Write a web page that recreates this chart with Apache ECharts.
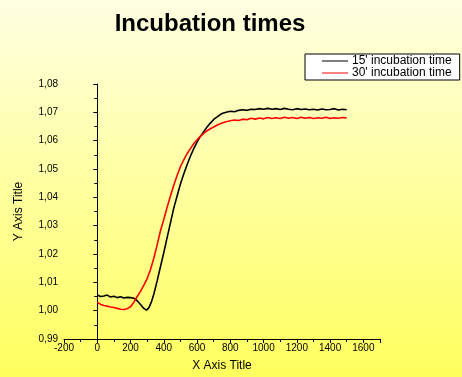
<!DOCTYPE html>
<html>
<head>
<meta charset="utf-8">
<script src="https://cdn.jsdelivr.net/npm/echarts@6/dist/echarts.min.js"></script>
<style>
  html, body { margin: 0; padding: 0; }
  #chart { width: 462px; height: 377px; }
</style>
</head>
<body>
<div id="chart"></div>
<script>
const seriesNames = ["15' incubation time", "30' incubation time"];
const seriesColors = ['#000000', '#ff0000'];

const time15 = [0, 10, 20, 40, 60, 80, 100, 120, 140, 160, 180, 200, 220, 240, 260, 280, 296, 310, 325, 340,
  360, 380, 400, 420, 440, 460, 480, 500, 520, 540, 560, 580, 600, 620, 640, 660, 680, 700,
  725, 750, 775, 800, 825, 850, 875, 900, 925, 950, 975, 1000, 1025, 1050, 1075, 1100, 1125, 1150,
  1175, 1200, 1225, 1250, 1275, 1300, 1325, 1350, 1375, 1400, 1425, 1450, 1475, 1500];
const value15 = [1.0055, 1.0062, 1.0050, 1.0052, 1.0055, 1.0048, 1.0051, 1.0046, 1.0049, 1.0045, 1.0047, 1.0046, 1.0044, 1.0035, 1.0022, 1.0008, 1.0002, 1.0010, 1.0030, 1.0058,
  1.0105, 1.0155, 1.0205, 1.0258, 1.0310, 1.0362, 1.0405, 1.0447, 1.0482, 1.0515, 1.0545, 1.0572, 1.0595, 1.0615, 1.0632, 1.0648, 1.0662, 1.0675,
  1.0686, 1.0696, 1.0700, 1.0704, 1.0702, 1.0707, 1.0709, 1.0707, 1.0711, 1.0710, 1.0713, 1.0711, 1.0714, 1.0711, 1.0713, 1.0710, 1.0714, 1.0711,
  1.0709, 1.0713, 1.0710, 1.0712, 1.0709, 1.0711, 1.0708, 1.0712, 1.0709, 1.0710, 1.0713, 1.0708, 1.0711, 1.0709];

const time30 = [0, 10, 20, 40, 60, 80, 100, 120, 140, 160, 180, 200, 220, 240, 260, 280, 300, 320, 340,
  360, 380, 400, 420, 440, 460, 480, 500, 520, 540, 560, 580, 600, 620, 640, 660, 680, 700,
  725, 750, 775, 800, 825, 850, 875, 900, 925, 950, 975, 1000, 1025, 1050, 1075, 1100, 1125, 1150,
  1175, 1200, 1225, 1250, 1275, 1300, 1325, 1350, 1375, 1400, 1425, 1450, 1475, 1500];
const value30 = [1.0030, 1.0026, 1.0022, 1.0018, 1.0016, 1.0013, 1.0011, 1.0008, 1.0005, 1.0004, 1.0007, 1.0014, 1.0030, 1.0050, 1.0068, 1.0090, 1.0113, 1.0145, 1.0185,
  1.0232, 1.0282, 1.0322, 1.0365, 1.0405, 1.0443, 1.0477, 1.0508, 1.0532, 1.0554, 1.0572, 1.0589, 1.0603, 1.0615, 1.0626, 1.0635, 1.0642, 1.0648,
  1.0656, 1.0662, 1.0667, 1.0670, 1.0673, 1.0671, 1.0676, 1.0674, 1.0679, 1.0676, 1.0680, 1.0677, 1.0682, 1.0678, 1.0681, 1.0678, 1.0683, 1.0679,
  1.0682, 1.0678, 1.0683, 1.0679, 1.0682, 1.0678, 1.0681, 1.0679, 1.0683, 1.0678, 1.0681, 1.0679, 1.0682, 1.0680];

const xTicks = { min: -200, max: 1700, interval: 200 };
const yTicks = { min: 0.99, max: 1.08, interval: 0.01 };

const font = 'Arial, "Liberation Sans", sans-serif';
const chart = echarts.init(document.getElementById('chart'));

const axisCommon = {
  axisLine: { show: true, lineStyle: { color: '#000', width: 1 } },
  axisTick: { show: true, length: 4, lineStyle: { color: '#000' } },
  minorTick: { show: true, splitNumber: 2, length: 3, lineStyle: { color: '#000' } },
  splitLine: { show: false },
  axisLabel: { color: '#000', fontSize: 10, fontFamily: font },
  nameTextStyle: { color: '#000', fontSize: 12, fontFamily: font },
  nameLocation: 'middle'
};

chart.setOption({
  backgroundColor: new echarts.graphic.LinearGradient(0, 0, 0, 1, [
    { offset: 0, color: '#ffffe2' },
    { offset: 1, color: '#ffff5e' }
  ]),
  animation: false,
  title: {
    text: 'Incubation times',
    left: 205,
    textAlign: 'center',
    top: 7,
    textStyle: { fontSize: 24, fontWeight: 'bold', color: '#000', fontFamily: font }
  },
  legend: {
    orient: 'vertical',
    left: 305,
    top: 54,
    borderColor: '#000',
    borderWidth: 1,
    backgroundColor: '#fff',
    padding: [1, 8, 1, 17],
    itemGap: 0,
    itemWidth: 26,
    itemHeight: 12,
    textStyle: { fontSize: 12, color: '#000', fontFamily: font, padding: [0, 0, 0, -1] },
    data: seriesNames.map((n, i) => ({
      name: n,
      icon: 'path://M0,11.5 L26,11.5 L26,12.5 L0,12.5 Z',
      itemStyle: { color: seriesColors[i], borderWidth: 0 }
    }))
  },
  grid: { left: 64, top: 84, right: 82, bottom: 37, containLabel: false },
  xAxis: Object.assign({}, axisCommon, {
    type: 'value',
    min: xTicks.min, max: xTicks.max, interval: xTicks.interval,
    name: 'X Axis Title',
    nameGap: 21,
    axisLabel: Object.assign({}, axisCommon.axisLabel, { margin: 4, showMaxLabel: false, formatter: v => String(v) })
  }),
  yAxis: Object.assign({}, axisCommon, {
    type: 'value',
    min: yTicks.min, max: yTicks.max, interval: yTicks.interval,
    name: 'Y Axis Title',
    nameGap: 39,
    axisLabel: Object.assign({}, axisCommon.axisLabel, {
      margin: 6,
      formatter: v => v.toFixed(2).replace('.', ',')
    })
  }),
  series: [
    {
      name: seriesNames[0],
      type: 'line',
      symbol: 'none',
      lineStyle: { color: seriesColors[0], width: 1.6 },
      itemStyle: { color: seriesColors[0] },
      data: time15.map((t, i) => [t, value15[i]])
    },
    {
      name: seriesNames[1],
      type: 'line',
      symbol: 'none',
      lineStyle: { color: seriesColors[1], width: 1.6 },
      itemStyle: { color: seriesColors[1] },
      data: time30.map((t, i) => [t, value30[i]])
    }
  ]
});
</script>
</body>
</html>
